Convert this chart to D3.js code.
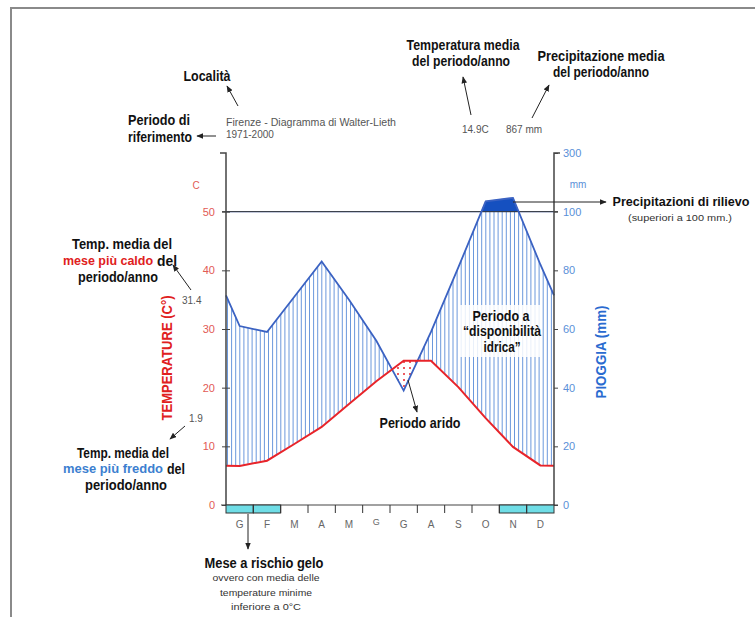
<!DOCTYPE html>
<html>
<head>
<meta charset="utf-8">
<script src="https://cdn.jsdelivr.net/npm/d3@7"></script>
<style>
  html, body { margin: 0; padding: 0; background: #fff; }
  svg { display: block; }
  .bold { font-family: "Liberation Sans", Arial, sans-serif; font-weight: bold; font-size: 14px; fill: #111; }
  .small { font-family: "Liberation Sans", Arial, sans-serif; font-size: 10px; fill: #555; }
  .tiny { font-family: "Liberation Sans", Arial, sans-serif; font-size: 9px; fill: #333; }
</style>
</head>
<body>
<script>
// ---------- DATA ----------
const months = ["G", "F", "M", "A", "M", "G", "G", "A", "S", "O", "N", "D"];
const temperature = [6.65, 7.55, 10.4, 13.3, 17.2, 21.1, 24.6, 24.6, 20.1, 14.8, 9.9, 6.75];
const precipitation = [61, 59, 71, 83, 70, 56, 39, 59, 81, 135, 147, 82];
const frostRisk = [true, true, false, false, false, false, false, false, false, false, true, true];
const tempTicks = [0, 10, 20, 30, 40, 50];
const precTicks = [0, 20, 40, 60, 80, 100, 300];
const stationTitle = "Firenze - Diagramma di Walter-Lieth";
const periodLabel = "1971-2000";
const meanTemp = "14.9C";
const meanPrec = "867 mm";
const maxWarm = "31.4";
const minCold = "1.9";

// ---------- SETUP ----------
const W = 755, H = 617;
const svg = d3.select("body").append("svg").attr("width", W).attr("height", H);

// frame
svg.append("path").attr("d", `M11,617V8H755`).attr("fill", "none").attr("stroke", "#8a8a8a").attr("stroke-width", 2);

const x = d3.scaleLinear().domain([0, 12]).range([226, 554]);
const xBand = d3.scaleBand().domain(d3.range(12)).range([226, 554]);
const y = d3.scaleLinear().domain([0, 60]).range([505, 153]);
const yP = d3.scaleLinear().domain([0, 100, 300]).range([y(0), y(50), y(60)]);

// extended series (edges = mean of Dec and Jan)
const pos = [0, ...d3.range(12).map(i => i + 0.5), 12];
const tEdge = (temperature[0] + temperature[11]) / 2;
const pEdge = (precipitation[0] + precipitation[11]) / 2;
const tExt = [tEdge, ...temperature, tEdge];
const pExt = [pEdge, ...precipitation, pEdge];
const tPix = tExt.map(v => y(v));
const pPix = pExt.map(v => yP(v));
function interp(arr, t) {
  for (let i = 0; i < pos.length - 1; i++) {
    if (t >= pos[i] && t <= pos[i + 1]) {
      const f = (t - pos[i]) / (pos[i + 1] - pos[i]);
      return arr[i] + f * (arr[i + 1] - arr[i]);
    }
  }
  return arr[arr.length - 1];
}

const defs = svg.append("defs");
defs.append("marker").attr("id", "arr").attr("viewBox", "0 0 10 8").attr("refX", 9).attr("refY", 4)
  .attr("markerWidth", 7).attr("markerHeight", 6).attr("markerUnits", "userSpaceOnUse").attr("orient", "auto")
  .append("path").attr("d", "M0,0L10,4L0,8Z").attr("fill", "#222");
const pat = defs.append("pattern").attr("id", "dots").attr("patternUnits", "userSpaceOnUse").attr("width", 6).attr("height", 6);
pat.append("rect").attr("width", 6).attr("height", 6).attr("fill", "#fff");
pat.append("circle").attr("cx", 2).attr("cy", 2).attr("r", 1).attr("fill", "#e8242a");

const samples = d3.range(0, 12.0001, 0.01);

// ---------- HATCH (wet period) ----------
const hatch = svg.append("g");
const step = (x(12) - x(0)) / 80;
for (let px = x(0) + 1.5; px <= x(12); px += step) {
  const t = x.invert(px);
  const yt = interp(tPix, t), yp = Math.max(interp(pPix, t), y(50));
  if (yp < yt) {
    hatch.append("line").attr("x1", px).attr("x2", px).attr("y1", yt).attr("y2", yp)
      .attr("stroke", "#6b98dc").attr("stroke-width", 1);
  }
}

// dry period
svg.append("path").datum(samples)
  .attr("d", d3.area().x(t => x(t)).y0(t => interp(tPix, t)).y1(t => Math.max(interp(tPix, t), interp(pPix, t))))
  .attr("fill", "url(#dots)");

// cap over 100 mm
svg.append("path").datum(samples)
  .attr("d", d3.area().x(t => x(t)).y0(() => y(50)).y1(t => Math.min(y(50), interp(pPix, t))))
  .attr("fill", "#1550c0").attr("stroke", "#1550c0").attr("stroke-width", 0.5);

// 50 C / 100 mm line
svg.append("line").attr("x1", x(0) - 4).attr("x2", x(12) + 4).attr("y1", y(50)).attr("y2", y(50))
  .attr("stroke", "#333").attr("stroke-width", 1);

// precipitation line
svg.append("path").datum(pos.map((p, i) => [p, pExt[i]]))
  .attr("d", d3.line().x(d => x(d[0])).y(d => yP(d[1])))
  .attr("fill", "none").attr("stroke", "#3b62c2").attr("stroke-width", 1.8);
// temperature line
svg.append("path").datum(pos.map((p, i) => [p, tExt[i]]))
  .attr("d", d3.line().x(d => x(d[0])).y(d => y(d[1])))
  .attr("fill", "none").attr("stroke", "#e8242a").attr("stroke-width", 2);

// ---------- AXES ----------
const leftAxis = svg.append("g").attr("transform", `translate(${x(0)},0)`)
  .call(d3.axisLeft(y).tickValues(tempTicks).tickSize(4).tickSizeOuter(6).tickPadding(7).tickFormat(d3.format("d")));
leftAxis.select(".domain").attr("d", `M-6,${y(60)}H0V${y(0)}`).attr("stroke", "#444").attr("stroke-width", 1.5);
leftAxis.selectAll(".tick line").attr("x2", -4).attr("x1", 4).attr("stroke", "#444");
leftAxis.selectAll(".tick text").attr("fill", "#e25a55").attr("font-size", 11).attr("font-family", "Liberation Sans, Arial, sans-serif");

const rightAxis = svg.append("g").attr("transform", `translate(${x(12)},0)`)
  .call(d3.axisRight(yP).tickValues(precTicks).tickSize(4).tickSizeOuter(6).tickPadding(5).tickFormat(d3.format("d")));
rightAxis.select(".domain").attr("d", `M6,${y(60)}H0V${y(0)}`).attr("stroke", "#444").attr("stroke-width", 1.5);
rightAxis.selectAll(".tick line").attr("stroke", "#444");
rightAxis.selectAll(".tick text").attr("fill", "#5a8fd8").attr("font-size", 11).attr("font-family", "Liberation Sans, Arial, sans-serif");

// zero line
svg.append("line").attr("x1", x(0) - 5).attr("x2", x(12) + 4).attr("y1", y(0)).attr("y2", y(0))
  .attr("stroke", "#444").attr("stroke-width", 1.2);

// frost boxes and month ticks
svg.append("g").selectAll("rect").data(d3.range(12).filter(i => frostRisk[i])).join("rect")
  .attr("x", i => xBand(i)).attr("width", xBand.bandwidth()).attr("y", y(0)).attr("height", 8)
  .attr("fill", "#6fdde6").attr("stroke", "#333").attr("stroke-width", 1);
svg.append("g").selectAll("line").data(d3.range(1, 12)).join("line")
  .attr("x1", i => x(i)).attr("x2", i => x(i)).attr("y1", y(0)).attr("y2", y(0) + 8)
  .attr("stroke", "#333").attr("stroke-width", 1);
svg.append("g").selectAll("text").data(months).join("text")
  .attr("x", (d, i) => xBand(i) + xBand.bandwidth() / 2).attr("y", (d, i) => y(0) + (i === 5 ? 17 : 19))
  .attr("dy", "0.35em").attr("text-anchor", "middle")
  .attr("font-family", "Liberation Sans, Arial, sans-serif").attr("font-size", (d, i) => i === 5 ? 9 : 10).attr("fill", "#666")
  .text(d => d);

// axis unit labels
svg.append("text").attr("x", 196).attr("y", 185).attr("dy", "0.35em").attr("text-anchor", "middle")
  .attr("font-family", "Liberation Sans, Arial, sans-serif").attr("font-size", 10).attr("fill", "#e25a55").text("C");
svg.append("text").attr("x", 578).attr("y", 184).attr("dy", "0.35em").attr("text-anchor", "middle")
  .attr("font-family", "Liberation Sans, Arial, sans-serif").attr("font-size", 10).attr("fill", "#5a8fd8").text("mm");

svg.append("text").attr("class", "bold").attr("transform", "translate(167,358) rotate(-90)")
  .attr("dy", "0.35em").attr("text-anchor", "middle").attr("textLength", 125).attr("lengthAdjust", "spacingAndGlyphs")
  .style("fill", "#e02020").text("TEMPERATURE (C°)");
svg.append("text").attr("class", "bold").attr("transform", "translate(601,352) rotate(-90)")
  .attr("dy", "0.35em").attr("text-anchor", "middle").attr("textLength", 93).attr("lengthAdjust", "spacingAndGlyphs")
  .style("fill", "#2a6bd0").text("PIOGGIA (mm)");

// ---------- ANNOTATIONS ----------
function label(txt, cx, cy, cls, anchor, len) {
  const t = svg.append("text").attr("class", cls).attr("x", cx).attr("y", cy).attr("dy", "0.35em")
    .attr("text-anchor", anchor || "middle").text(txt);
  if (len) t.attr("textLength", len).attr("lengthAdjust", "spacingAndGlyphs");
  return t;
}
function arrow(x1, y1, x2, y2) {
  svg.append("line").attr("x1", x1).attr("y1", y1).attr("x2", x2).attr("y2", y2)
    .attr("stroke", "#222").attr("stroke-width", 1).attr("marker-end", "url(#arr)");
}

label("Località", 207, 76, "bold", "middle", 47);
arrow(238, 106, 227, 86);
label(stationTitle, 226, 122, "small", "start", 170);
label(periodLabel, 226, 134, "small", "start");
label("Periodo di", 159, 120, "bold", "middle", 62);
label("riferimento", 160, 137, "bold", "middle", 64);
arrow(216, 136, 197, 136);

label("Temperatura media", 463, 45, "bold", "middle", 113);
label("del periodo/anno", 461, 61, "bold", "middle", 98);
arrow(471, 115, 463, 77);
label("Precipitazione media", 601, 56, "bold", "middle", 127);
label("del periodo/anno", 601, 72, "bold", "middle", 96);
arrow(532, 118, 549, 85);
label(meanTemp, 462, 129, "small", "start");
label(meanPrec, 506, 129, "small", "start");

arrow(513, 202, 606, 202);
label("Precipitazioni di rilievo", 681, 202, "bold", "middle", 137).style("font-size", "12.5px");
label("(superiori a 100 mm.)", 680, 218, "tiny", "middle", 104);

// warmest month
label("Temp. media del", 122, 244, "bold", "middle", 100);
label("mese più caldo", 63, 261, "bold", "start", 90).style("fill", "#e02020").style("font-size", "12px");
label("del", 157, 261, "bold", "start", 20);
label("periodo/anno", 118, 277, "bold", "middle", 80);
arrow(191, 290, 173, 265);
label(maxWarm, 182, 300, "small", "start");

// coldest month
label(minCold, 189, 418, "small", "start");
arrow(185, 426, 170, 439);
label("Temp. media del", 123, 453, "bold", "middle", 92);
label("mese più freddo", 63, 469, "bold", "start", 100).style("fill", "#3d7fd0").style("font-size", "12px");
label("del", 167, 469, "bold", "start", 18);
label("periodo/anno", 126, 485, "bold", "middle", 82);

// arid
arrow(408, 380, 417, 412);
label("Periodo arido", 420, 423, "bold", "middle", 81);

// water availability
svg.append("rect").attr("x", 459).attr("y", 305).attr("width", 83).attr("height", 52)
  .attr("fill", "#fff").attr("opacity", 0.85);
label("Periodo a", 501, 316, "bold", "middle", 57);
label("“disponibilità", 502, 331.5, "bold", "middle", 78);
label("idrica”", 502, 347, "bold", "middle", 37);

// frost
arrow(248, 514, 248, 549);
label("Mese a rischio gelo", 264, 563, "bold", "middle", 119);
label("ovvero con media delle", 266, 578, "tiny", "middle", 107);
label("temperature minime", 266, 593, "tiny", "middle", 92);
label("inferiore a 0°C", 266, 607, "tiny", "middle", 70);
</script>
</body>
</html>
